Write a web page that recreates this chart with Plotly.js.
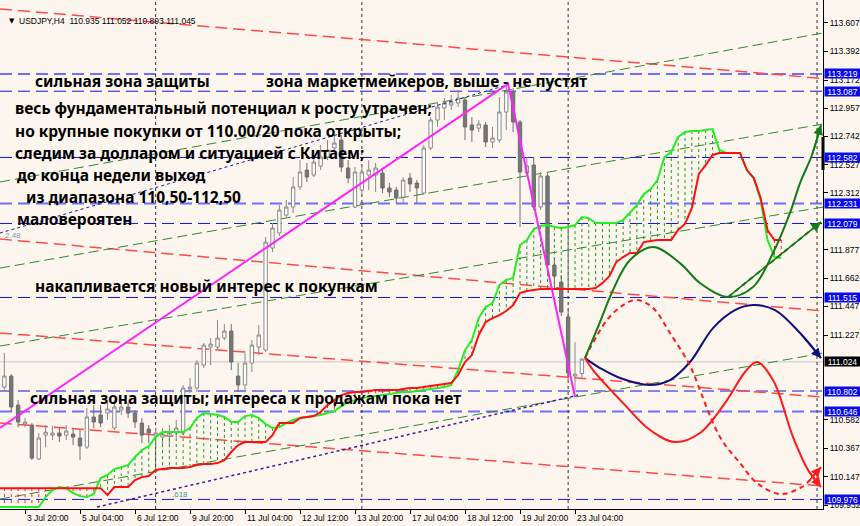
<!DOCTYPE html>
<html><head><meta charset="utf-8">
<script src="https://cdn.plot.ly/plotly-3.0.1.min.js"></script>
<style>html,body{margin:0;padding:0;background:#FDF6EE;}#chart{width:860px;height:526px;}</style>
</head><body><div id="chart"></div>
<script>
// ---------- candles (H4 bars, index 0 = 3 Jul 20:00) ----------
const firstBar = -3;
const openP = [110.832,110.916,110.695,110.550,110.543,110.284,110.466,110.466,110.482,110.466,110.474,110.444,110.375,110.604,110.619,110.634,110.520,110.657,110.680,110.634,110.558,110.512,110.459,110.451,110.459,110.482,110.482,110.817,110.825,111.000,111.137,111.137,111.206,111.259,110.916,110.848,111.015,111.137,111.114,111.892,112.006,112.143,112.204,112.357,112.486,112.448,112.517,112.585,112.654,112.715,112.502,112.204,112.334,112.448,112.448,112.463,112.349,112.334,112.280,112.425,112.387,112.311,112.654,112.867,112.959,112.982,112.997,113.020,112.829,112.806,112.829,112.700,112.715,112.928,113.081,112.852,112.463,112.524,112.204,112.441,111.762,111.633,111.366,110.916,110.935];
const highP = [111.091,110.931,110.733,110.596,110.558,110.482,110.543,110.535,110.520,110.543,110.520,110.505,110.672,110.695,110.695,110.718,110.733,110.733,110.718,110.657,110.596,110.543,110.520,110.520,110.543,110.581,110.848,110.901,111.038,111.168,111.206,111.343,111.312,111.312,111.015,111.091,111.191,111.305,111.976,112.082,112.219,112.258,112.433,112.562,112.540,112.585,112.677,112.715,112.745,112.753,112.562,112.509,112.524,112.562,112.540,112.486,112.387,112.357,112.433,112.463,112.410,112.677,112.890,112.997,113.035,113.058,113.096,113.043,112.890,112.867,112.852,112.814,113.043,113.134,113.111,112.867,112.585,112.585,112.471,112.463,111.816,111.686,111.419,111.175,111.052];
const lowP = [110.794,110.642,110.527,110.527,110.276,110.276,110.375,110.428,110.413,110.428,110.390,110.276,110.360,110.520,110.527,110.581,110.505,110.619,110.596,110.520,110.405,110.405,110.375,110.390,110.390,110.444,110.466,110.787,110.794,110.977,111.000,111.114,111.191,110.962,110.794,110.794,110.947,111.076,111.099,111.861,111.983,112.120,112.159,112.334,112.395,112.433,112.486,112.562,112.616,112.471,112.387,112.197,112.296,112.334,112.319,112.311,112.280,112.235,112.235,112.319,112.235,112.296,112.639,112.814,112.867,112.944,112.966,112.715,112.700,112.776,112.662,112.654,112.692,112.791,112.776,112.052,112.433,112.181,112.181,111.701,111.572,111.373,110.886,110.794,110.893];
const closeP = [110.916,110.680,110.566,110.566,110.291,110.444,110.489,110.482,110.459,110.497,110.451,110.383,110.604,110.566,110.558,110.665,110.680,110.680,110.634,110.566,110.466,110.482,110.482,110.474,110.489,110.520,110.825,110.832,111.015,111.152,111.160,111.206,111.259,111.023,110.848,111.015,111.152,111.229,111.937,112.044,112.181,112.204,112.357,112.471,112.433,112.547,112.585,112.639,112.692,112.509,112.425,112.471,112.471,112.486,112.502,112.349,112.319,112.273,112.410,112.380,112.349,112.654,112.867,112.966,112.997,113.005,113.035,112.814,112.791,112.837,112.700,112.730,112.928,113.081,112.852,112.471,112.517,112.204,112.441,111.762,111.678,111.404,110.939,110.931,111.045];
const bars = openP.map((_, i) => firstBar + i);

// ---------- Ichimoku cloud (shifted forward) ----------
const cloudFirst = -4;
const spanA = [109.918,109.918,109.918,109.918,109.918,109.918,109.918,
 109.994,110.047,110.070,110.062,110.024,110.001,109.994,110.017,110.139,110.162,110.207,110.223,110.238,110.299,110.352,110.383,110.451,
 110.489,110.489,110.489,110.489,110.520,110.596,110.634,110.626,110.619,110.604,110.566,110.566,110.611,110.619,110.596,110.550,110.520,
 110.527,110.558,110.581,110.596,110.604,110.611,110.619,110.634,110.649,110.687,110.718,110.733,110.748,110.756,110.764,110.771,110.779,
 110.787,110.794,110.794,110.802,110.809,110.817,110.825,110.832,110.848,110.962,111.114,111.191,111.358,111.442,111.473,111.610,111.648,
 111.663,111.915,111.953,112.037,112.059,112.067,112.052,112.044,112.052,112.067,112.128,112.120,112.082,112.082,112.082,112.082,112.105,
 112.159,112.219,112.303,112.341,112.410,112.585,112.623,112.738,112.776,112.784,112.784,112.791,112.799,112.639,112.616,112.616,112.616,
 112.486,112.425,112.258,111.953,111.823,111.815];
const spanB = [110.062,110.062,110.062,110.062,110.062,110.062,110.062,110.062,110.062,110.062,110.062,110.062,110.062,110.062,110.062,110.062,
 110.009,110.070,110.070,110.070,110.123,110.146,110.154,110.200,110.207,110.215,110.215,110.215,110.223,110.238,110.245,110.245,110.253,
 110.276,110.337,110.390,110.413,110.413,110.413,110.413,110.466,110.558,110.558,110.558,110.596,110.604,110.611,110.642,110.695,110.733,
 110.771,110.787,110.794,110.794,110.802,110.809,110.809,110.809,110.809,110.817,110.825,110.825,110.832,110.840,110.848,110.855,110.863,
 110.924,111.023,111.076,111.229,111.328,111.358,111.381,111.412,111.457,111.549,111.564,111.572,
 111.579,111.579,111.579,111.579,111.579,111.579,111.579,111.579,
 111.587,111.625,111.678,111.785,111.823,111.854,111.854,111.937,111.945,111.953,111.953,111.953,112.029,112.075,112.197,112.456,112.524,
 112.601,112.616,112.616,112.616,112.616,112.486,112.425,112.273,112.029,111.953,111.953];
const cloudX = spanA.map((_, i) => cloudFirst + i);

// ---------- levels & lines ----------
const levelPrices = [113.219,113.087,112.582,112.231,112.079,111.515,110.802,110.646,109.976];
const levelHeavy  = [true,false,false,true,false,false,false,true,false];
const bidPrice = 111.024;
const yTicks = [113.607,113.392,113.172,112.957,112.742,112.527,112.312,111.877,111.662,111.447,111.227,110.582,110.367,110.147,109.932];
const xTickBars = [-8,0,8,16,24,32,40,48,56,64,72,80];
const xTickText = ["2 Jul 12:00","3 Jul 20:00","5 Jul 04:00","6 Jul 12:00","9 Jul 20:00","11 Jul 04:00","12 Jul 12:00","13 Jul 20:00","17 Jul 04:00","18 Jul 12:00","19 Jul 20:00","23 Jul 04:00"];
const weekSeparators = [19,49,79,115.2];
const channelX = [-3.64,116.07];
const redChannelStart = [113.713,111.960,111.244,110.558];
const redChannelEnd   = [113.184,111.412,110.756,110.078];
const greenChannelStart = [112.395,111.739,111.145,109.979];
const greenChannelEnd   = [113.531,112.837,112.204,111.091];
const magentaX = [-3.64,70.25,80.0];
const magentaY = [110.520,113.142,110.756];
const fibBlueX = [-3.64,70.1], fibBlueY = [112.006,113.134];
const fibPurpleX = [10.47,80.44], fibPurpleY = [109.918,110.771];

// ---------- forecast paths ----------
const greenSolidX = [81.45,83.64,85.53,88.0,91.35,95.27,98.18,102.25,105.89,108.8,111.27,112.73,114.47,115.78];
const greenSolidY = [111.053,111.328,111.572,111.800,111.899,111.777,111.625,111.518,111.594,111.854,112.159,112.387,112.601,112.829];
const redDashX = [81.45,84.65,87.0,89.02,91.35,93.82,96.29,97.02,101.09,104.0,106.47,109.82,112.73,113.75,115.78];
const redDashY = [111.053,111.343,111.457,111.496,111.435,111.244,111.038,110.962,110.451,110.253,110.101,110.017,110.062,110.101,110.223];
const redSolidX = [81.45,82.62,87.0,90.91,94.55,98.18,102.11,104.73,106.47,108.8,111.71,113.89,115.78];
const redSolidY = [111.053,110.962,110.710,110.505,110.413,110.482,110.733,110.947,111.023,110.886,110.451,110.200,110.070];
const navyX = [81.45,83.64,86.55,90.91,93.82,96.73,100.07,103.27,105.89,109.09,112.73,115.78];
const navyY = [111.053,110.977,110.901,110.848,110.886,111.023,111.282,111.419,111.457,111.419,111.244,111.053];
const greenDashX = [102.25,115.78];
const greenDashY = [111.518,112.090];

// ---------- texts ----------
const notes = [
 ["сильная зона защиты",33,81],
 ["зона маркетмейкеров, выше - не пустят",264,81],
 ["весь фундаментальный потенциал к росту утрачен;",13,108],
 ["но крупные покупки от 110.00/20 пока открыты;",13,131],
 ["следим за долларом и ситуацией с Китаем;",13,153],
 ["до конца недели выход",15,175],
 [" из диапазона 110,50-112,50",20,197],
 ["маловероятен",15,219],
 ["накапливается новый интерес к покупкам",33,286],
 ["сильная зона защиты; интереса к продажам пока нет",28,398]
];
const header = "USDJPY,H4  110.935 111.052 110.893 111.045";

// ================= build =================
const W = 823, H = 509;
const px = v => v / W, py = v => 1 - v / H;

const hgx=[],hgy=[],hrx=[],hry=[];
cloudX.forEach((x,i)=>{const a=spanA[i],b=spanB[i];
  if(a>b){hgx.push(x,x,null);hgy.push(a,b,null);} else if(b>a){hrx.push(x,x,null);hry.push(b,a,null);} });

const traces = [
 {type:'scatter',mode:'lines',x:hgx,y:hgy,line:{color:'#1E9E1E',width:1,dash:'dot'},hoverinfo:'skip'},
 {type:'scatter',mode:'lines',x:hrx,y:hry,line:{color:'#FF2020',width:1,dash:'dot'},hoverinfo:'skip'},
 {type:'scatter',mode:'lines',x:cloudX,y:spanA,line:{color:'#22EE22',width:2},hoverinfo:'skip'},
 {type:'scatter',mode:'lines',x:cloudX,y:spanB,line:{color:'#FF1010',width:2},hoverinfo:'skip'},
 {type:'candlestick',x:bars,open:openP,high:highP,low:lowP,close:closeP,
  increasing:{line:{color:'#8A8A8A',width:1},fillcolor:'#FFFFFF'},
  decreasing:{line:{color:'#6E6E6E',width:1},fillcolor:'#767676'},whiskerwidth:0,hoverinfo:'skip'},
 {type:'scatter',mode:'lines',x:fibBlueX,y:fibBlueY,line:{color:'#1A1A9A',width:1,dash:'dot'},hoverinfo:'skip'},
 {type:'scatter',mode:'lines',x:fibPurpleX,y:fibPurpleY,line:{color:'#4B1A9A',width:1.5,dash:'dot'},hoverinfo:'skip'},
 {type:'scatter',mode:'lines',x:magentaX,y:magentaY,line:{color:'#FF22FF',width:2},hoverinfo:'skip'},
 {type:'scatter',mode:'lines',x:navyX,y:navyY,line:{color:'#101080',width:2,shape:'spline',smoothing:1},hoverinfo:'skip'},
 {type:'scatter',mode:'lines',x:redSolidX,y:redSolidY,line:{color:'#FF1A1A',width:2,shape:'spline',smoothing:1},hoverinfo:'skip'},
 {type:'scatter',mode:'lines',x:redDashX,y:redDashY,line:{color:'#FF1A1A',width:2,dash:'5px,4px',shape:'spline',smoothing:1},hoverinfo:'skip'},
 {type:'scatter',mode:'lines',x:greenSolidX,y:greenSolidY,line:{color:'#167A16',width:2,shape:'spline',smoothing:1},hoverinfo:'skip'},
 {type:'scatter',mode:'lines',x:greenDashX,y:greenDashY,line:{color:'#167A16',width:2,dash:'5px,4px'},hoverinfo:'skip'}
];

const shapes = [];
levelPrices.forEach((p,i)=>shapes.push({type:'line',xref:'paper',x0:0,x1:1,yref:'y',y0:p,y1:p,layer:'below',
  line:{color: levelHeavy[i] ? '#6E6EFF' : '#1414E0', width: levelHeavy[i] ? 2 : 1, dash:'12px,6px'}}));
shapes.push({type:'line',xref:'paper',x0:0,x1:1,yref:'y',y0:bidPrice,y1:bidPrice,layer:'below',line:{color:'#C8C8C8',width:1}});
redChannelStart.forEach((s,i)=>shapes.push({type:'line',xref:'x',yref:'y',x0:channelX[0],x1:channelX[1],y0:s,y1:redChannelEnd[i],layer:'below',
  line:{color:'#FF4A4A',width:1.5,dash:'12px,6px'}}));
greenChannelStart.forEach((s,i)=>shapes.push({type:'line',xref:'x',yref:'y',x0:channelX[0],x1:channelX[1],y0:s,y1:greenChannelEnd[i],layer:'below',
  line:{color:'#2E8B2E',width:1,dash:'10px,5px'}}));
weekSeparators.forEach(b=>shapes.push({type:'line',xref:'x',yref:'paper',x0:b,x1:b,y0:0,y1:1,layer:'below',line:{color:'#333',width:1,dash:'dot'}}));
shapes.push({type:'line',xref:'paper',yref:'y',x0:1,x1:1,y0:112.738,y1:112.486,line:{color:'#000',width:3}});

const ann = [];
notes.forEach(n=>ann.push({xref:'paper',yref:'paper',x:px(n[1]),y:py(n[2]),text:n[0],showarrow:false,xanchor:'left',yanchor:'middle',
  font:{family:'Noto Sans, DejaVu Sans, sans-serif',size:15.5,weight:'bold',color:'#000'}}));
ann.push({xref:'paper',yref:'paper',x:px(7),y:py(21),text:'▼',showarrow:false,xanchor:'left',yanchor:'middle',font:{family:'DejaVu Sans',size:7,color:'#000'}});
ann.push({xref:'paper',yref:'paper',x:px(17),y:py(21),text:header,showarrow:false,xanchor:'left',yanchor:'middle',font:{family:'Liberation Sans, Arial',size:8.5,color:'#000'}});
ann.push({xref:'paper',yref:'paper',x:px(3),y:py(235),text:'2.48',showarrow:false,xanchor:'left',yanchor:'middle',font:{family:'Liberation Sans',size:8,color:'#7A9AB8'}});
ann.push({xref:'paper',yref:'paper',x:px(170),y:py(494),text:'.618',showarrow:false,xanchor:'left',yanchor:'middle',font:{family:'Liberation Sans',size:8,color:'#3C9A8C'}});
xTickBars.forEach((b,i)=>ann.push({xref:'x',yref:'paper',x:b,y:0,yshift:-2,text:xTickText[i],showarrow:false,xanchor:'left',yanchor:'top',
  font:{family:'Liberation Sans, Arial',size:8.5,color:'#000'}}));
levelPrices.forEach(p=>ann.push({xref:'paper',yref:'y',x:1,xshift:1,y:p,text:p.toFixed(3),showarrow:false,xanchor:'left',yanchor:'middle',
  bgcolor:'#0A0AF0',borderpad:0,height:9,width:35,font:{family:'Liberation Sans, Arial',size:8.5,color:'#FFFFFF'}}));
ann.push({xref:'paper',yref:'y',x:1,xshift:1,y:bidPrice,text:bidPrice.toFixed(3),showarrow:false,xanchor:'left',yanchor:'middle',
  bgcolor:'#000000',borderpad:0,height:9,width:35,font:{family:'Liberation Sans, Arial',size:8.5,color:'#FFFFFF'}});
// arrow heads at path ends
[[greenSolidX,greenSolidY,'#167A16'],[redDashX,redDashY,'#FF1A1A'],[redSolidX,redSolidY,'#FF1A1A'],[navyX,navyY,'#101080'],[greenDashX,greenDashY,'#167A16']]
 .forEach(([xs,ys,c])=>{const n=xs.length;ann.push({x:xs[n-1],y:ys[n-1],xref:'x',yref:'y',axref:'x',ayref:'y',ax:xs[n-2],ay:ys[n-2],
   text:'',showarrow:true,arrowhead:2,arrowsize:1.3,arrowwidth:1.5,arrowcolor:c});});

const layout = {
  width:860,height:526,margin:{l:0,r:37,t:0,b:17},
  paper_bgcolor:'#FDF6EE',plot_bgcolor:'#FDF6EE',showlegend:false,
  xaxis:{range:[-3.636,116.07],showgrid:false,zeroline:false,rangeslider:{visible:false},
    tickmode:'array',tickvals:xTickBars,ticktext:xTickBars.map(()=>''),ticks:'outside',ticklen:4,tickcolor:'#000',
    showline:true,linecolor:'#000',linewidth:1,mirror:false,fixedrange:true},
  yaxis:{range:[109.903,113.782],side:'right',showgrid:false,zeroline:false,tickmode:'array',tickvals:yTicks,
    ticktext:yTicks.map(v=>v.toFixed(3)),ticks:'outside',ticklen:4,tickcolor:'#000',
    tickfont:{family:'Liberation Sans, Arial',size:8.5,color:'#000'},showline:true,linecolor:'#000',linewidth:1,fixedrange:true},
  shapes:shapes,annotations:ann
};
Plotly.newPlot('chart',traces,layout,{displayModeBar:false,staticPlot:true});
</script></body></html>
